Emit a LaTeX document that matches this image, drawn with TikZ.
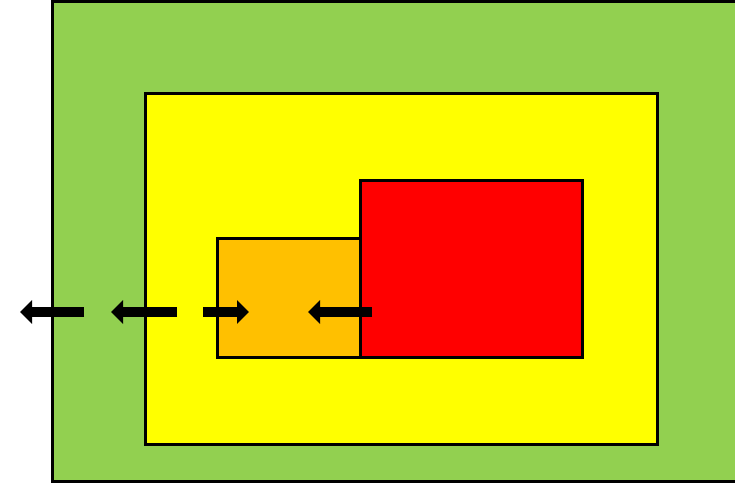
\documentclass[tikz,border=0pt]{standalone}
\usepackage{tikz}
\usetikzlibrary{arrows.meta, positioning}
\definecolor{outergreen}{HTML}{92D050}
\definecolor{innerorange}{HTML}{FFC000}
\definecolor{hotred}{HTML}{FF0000}
\definecolor{warmyellow}{HTML}{FFFF00}

\begin{document}
\begin{tikzpicture}[>=Stealth,
    zonebox/.style={draw=black, line width=1.5pt, inner sep=0pt, anchor=south west},
    flowarrow/.style={line width=0.2cm, -{Triangle[length=0.24cm, width=0.46cm]}}]
    \useasboundingbox (0, 0) rectangle (14.7, 9.68);
    \clip (0, 0) rectangle (14.7, 9.68);

    % zones
    \node[zonebox, fill=outergreen, minimum width=14.2cm, minimum height=9.6cm] (field) at (1.02, 0.02) {};
    \node[zonebox, fill=warmyellow, minimum width=10.24cm, minimum height=7.02cm] (buffer) at (2.88, 0.76) {};
    \node[zonebox, fill=innerorange, minimum width=2.86cm, minimum height=2.38cm] (edge) at (4.32, 2.5) {};
    \node[zonebox, fill=hotred, minimum width=4.44cm, minimum height=3.54cm] (core) at (7.18, 2.5) {};

    % arrow ends
    \coordinate (a1s) at (1.68, 3.44);
    \coordinate (a1e) at (0.40, 3.44);
    \coordinate (a2s) at (3.54, 3.44);
    \coordinate (a2e) at (2.22, 3.44);
    \coordinate (a3s) at (4.06, 3.44);
    \coordinate (a3e) at (4.98, 3.44);
    \coordinate (a4s) at (7.44, 3.44);
    \coordinate (a4e) at (6.16, 3.44);

    \draw[flowarrow] (a1s) -- (a1e);
    \draw[flowarrow] (a2s) -- (a2e);
    \draw[flowarrow] (a3s) -- (a3e);
    \draw[flowarrow] (a4s) -- (a4e);
\end{tikzpicture}
\end{document}
